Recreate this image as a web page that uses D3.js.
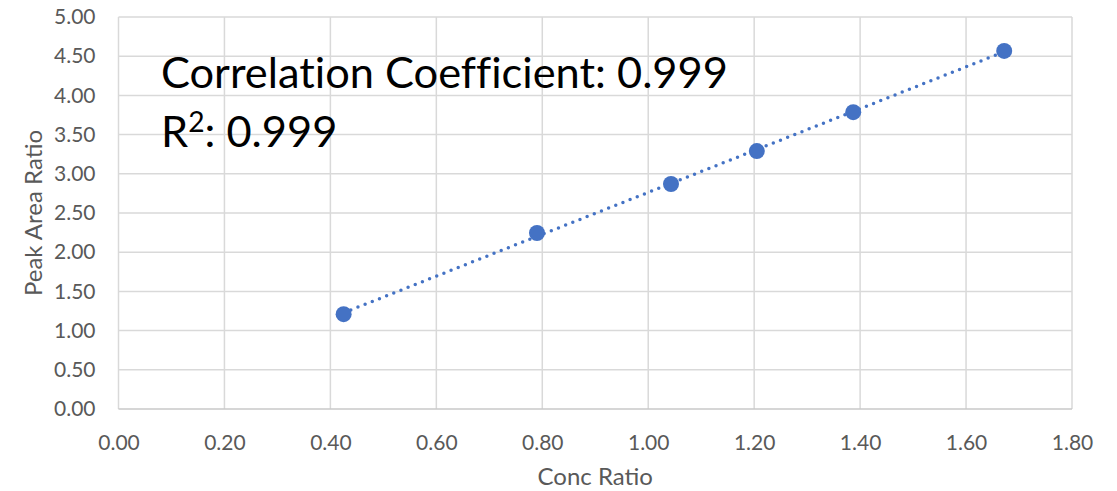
<!DOCTYPE html>
<meta charset="utf-8">
<style>
    body { margin: 0; background: #fff; }
    .tick text { font-family: Lato, sans-serif; font-size: 21px; fill: #595959; }
    .title { font-family: Lato, sans-serif; font-size: 24px; fill: #595959; }
    .note { font-family: Lato, sans-serif; fill: #000; font-variant-ligatures: none; }
</style>
<body>
<div id="chart"></div>
<script src="https://cdn.jsdelivr.net/npm/d3@7"></script>
<script>
    // data
    var concRatio = [0.425, 0.790, 1.043, 1.205, 1.387, 1.672];
    var peakAreaRatio = [1.21, 2.245, 2.87, 3.29, 3.786, 4.567];
    var xTicks = [0, 0.2, 0.4, 0.6, 0.8, 1.0, 1.2, 1.4, 1.6, 1.8];
    var yTicks = [0, 0.5, 1, 1.5, 2, 2.5, 3, 3.5, 4, 4.5, 5];
    var noteLines = ["Correlation Coefficient: 0.999", "R", ": 0.999"];

    var width = 1117,
        height = 491,
        margin = {left: 118.5, right: 45, top: 17, bottom: 82}

    var svg = d3.select('#chart').append("svg")
        .attr("width", width)
        .attr("height", height);

    var x = d3.scaleLinear().domain([0, 1.8]).range([margin.left, width - margin.right]);
    var y = d3.scaleLinear().domain([0, 5]).range([height - margin.bottom, margin.top]);

    // gridlines
    svg.append("g")
        .selectAll("line.v")
        .data(xTicks)
        .enter().append("line")
        .attr("x1", function (d) { return x(d); })
        .attr("x2", function (d) { return x(d); })
        .attr("y1", y(0))
        .attr("y2", y(5))
        .attr("stroke", "#d9d9d9")
        .attr("stroke-width", 1.5);

    svg.append("g")
        .selectAll("line.h")
        .data(yTicks)
        .enter().append("line")
        .attr("x1", x(0))
        .attr("x2", x(1.8))
        .attr("y1", function (d) { return y(d); })
        .attr("y2", function (d) { return y(d); })
        .attr("stroke", function (d) { return d == 0 ? "#c8c8c8" : "#d9d9d9"; })
        .attr("stroke-width", 1.5);

    // axes (labels only)
    var xAxis = svg.append("g")
        .attr("transform", "translate(0," + y(0) + ")")
        .call(d3.axisBottom(x).tickValues(xTicks).tickFormat(d3.format(".2f")).tickSize(0).tickPadding(26));
    xAxis.select(".domain").remove();

    var yAxis = svg.append("g")
        .attr("transform", "translate(" + x(0) + ",0)")
        .call(d3.axisLeft(y).tickValues(yTicks).tickFormat(d3.format(".2f")).tickSize(0).tickPadding(23));
    yAxis.select(".domain").remove();

    svg.append("text")
        .attr("class", "title")
        .attr("x", (x(0) + x(1.8)) / 2)
        .attr("y", 485)
        .attr("text-anchor", "middle")
        .text("Conc Ratio");

    svg.append("text")
        .attr("class", "title")
        .attr("transform", "translate(42," + (y(0) + y(5)) / 2 + ") rotate(-90)")
        .attr("text-anchor", "middle")
        .text("Peak Area Ratio");

    // linear trendline from least squares
    var n = concRatio.length,
        mx = d3.mean(concRatio),
        my = d3.mean(peakAreaRatio);
    var sxy = 0, sxx = 0;
    for (var i = 0; i < n; i++) {
        sxy += (concRatio[i] - mx) * (peakAreaRatio[i] - my);
        sxx += (concRatio[i] - mx) * (concRatio[i] - mx);
    }
    var slope = sxy / sxx,
        icpt = my - slope * mx;
    var x0 = d3.min(concRatio), x1 = d3.max(concRatio);

    svg.append("line")
        .attr("x1", x(x0))
        .attr("y1", y(icpt + slope * x0))
        .attr("x2", x(x1))
        .attr("y2", y(icpt + slope * x1))
        .attr("stroke", "#4472c4")
        .attr("stroke-width", 3.5)
        .attr("stroke-linecap", "round")
        .attr("stroke-dasharray", "0 7.7");

    // points
    svg.append("g")
        .selectAll("circle")
        .data(concRatio)
        .enter().append("circle")
        .attr("cx", function (d) { return x(d); })
        .attr("cy", function (d, i) { return y(peakAreaRatio[i]); })
        .attr("r", 8)
        .attr("fill", "#4472c4");

    // annotation
    var note1 = svg.append("text")
        .attr("class", "note")
        .attr("x", 161)
        .attr("y", 88)
        .style("font-size", "39px")
        .text(noteLines[0]);
    var w = note1.node().getComputedTextLength();
    var fs = 39 * 567 / w;
    note1.style("font-size", fs + "px");

    var note2 = svg.append("text")
        .attr("class", "note")
        .attr("x", 161)
        .attr("y", 147)
        .style("font-size", fs + "px");
    note2.append("tspan").text(noteLines[1]);
    note2.append("tspan").attr("dy", -15).style("font-size", (fs * 0.65) + "px").text("2");
    note2.append("tspan").attr("dy", 15).text(noteLines[2]);
</script>
</body>
